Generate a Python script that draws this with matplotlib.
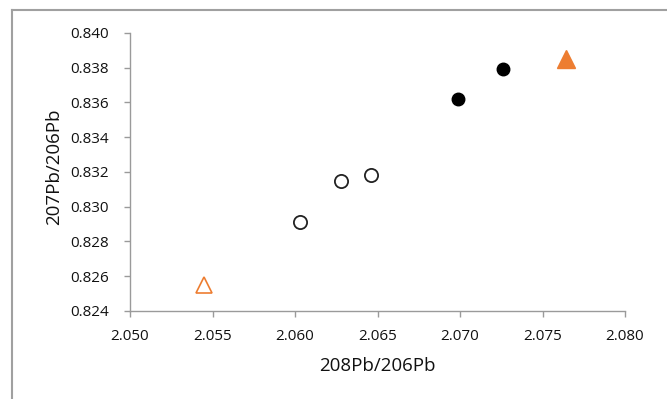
import matplotlib
matplotlib.use("Agg")
import matplotlib.pyplot as plt
from matplotlib.lines import Line2D

plt.rcParams['font.family'] = ['Open Sans', 'DejaVu Sans']

# Data
open_tri_x = [2.0545]
open_tri_y = [0.8255]
open_circ_x = [2.0603, 2.0628, 2.0646]
open_circ_y = [0.8291, 0.8315, 0.8318]
filled_circ_x = [2.0699, 2.0726]
filled_circ_y = [0.8362, 0.8379]
filled_tri_x = [2.0764]
filled_tri_y = [0.8385]

xticks = [2.050, 2.055, 2.060, 2.065, 2.070, 2.075, 2.080]
yticks = [0.824, 0.826, 0.828, 0.830, 0.832, 0.834, 0.836, 0.838, 0.840]

W, H = 667, 399
fig = plt.figure(figsize=(W/100, H/100), dpi=100)
ax = fig.add_axes([130/W, 1-311/H, (625-130)/W, (311-33)/H])

orange = '#ED7D31'
ax.plot(open_tri_x, open_tri_y, linestyle='none', marker='^', markersize=12,
        markerfacecolor='white', markeredgecolor=orange, markeredgewidth=1.2, clip_on=False)
ax.plot(open_circ_x, open_circ_y, linestyle='none', marker='o', markersize=9.5,
        markerfacecolor='white', markeredgecolor='#222222', markeredgewidth=1.3, clip_on=False)
ax.plot(filled_circ_x, filled_circ_y, linestyle='none', marker='o', markersize=9,
        markerfacecolor='black', markeredgecolor='black', clip_on=False)
ax.plot(filled_tri_x, filled_tri_y, linestyle='none', marker='^', markersize=12.5,
        markerfacecolor=orange, markeredgecolor=orange, clip_on=False)

ax.set_xlim(2.050, 2.080)
ax.set_ylim(0.824, 0.840)
ax.set_xticks(xticks)
ax.set_yticks(yticks)
ax.set_xticklabels([f"{v:.3f}" for v in xticks])
ax.set_yticklabels([f"{v:.3f}" for v in yticks])

for s in ['top', 'right']:
    ax.spines[s].set_visible(False)
for s in ['left', 'bottom']:
    ax.spines[s].set_color('#9a9a9a')
    ax.spines[s].set_linewidth(1.0)
ax.tick_params(axis='both', which='major', direction='out', length=4, width=1.0,
               color='#9a9a9a', labelsize=11, labelcolor='#111111')
ax.tick_params(axis='y', pad=11)
ax.tick_params(axis='x', pad=9)

ax.set_xlabel('208Pb/206Pb', fontsize=13.5, color='#111111', labelpad=9)
ax.set_ylabel('207Pb/206Pb', fontsize=13.5, color='#111111', labelpad=5)
ax.yaxis.label.set_y(0.52)

# Outer frame (left and top edges visible)
fig.add_artist(Line2D([11.5/W, 11.5/W], [0, 1-9.5/H], transform=fig.transFigure,
                      color='#a0a0a0', linewidth=1.5))
fig.add_artist(Line2D([11.5/W, 1], [1-9.5/H, 1-9.5/H], transform=fig.transFigure,
                      color='#a0a0a0', linewidth=1.5))

fig.savefig('out.png', dpi=100, facecolor='white')
